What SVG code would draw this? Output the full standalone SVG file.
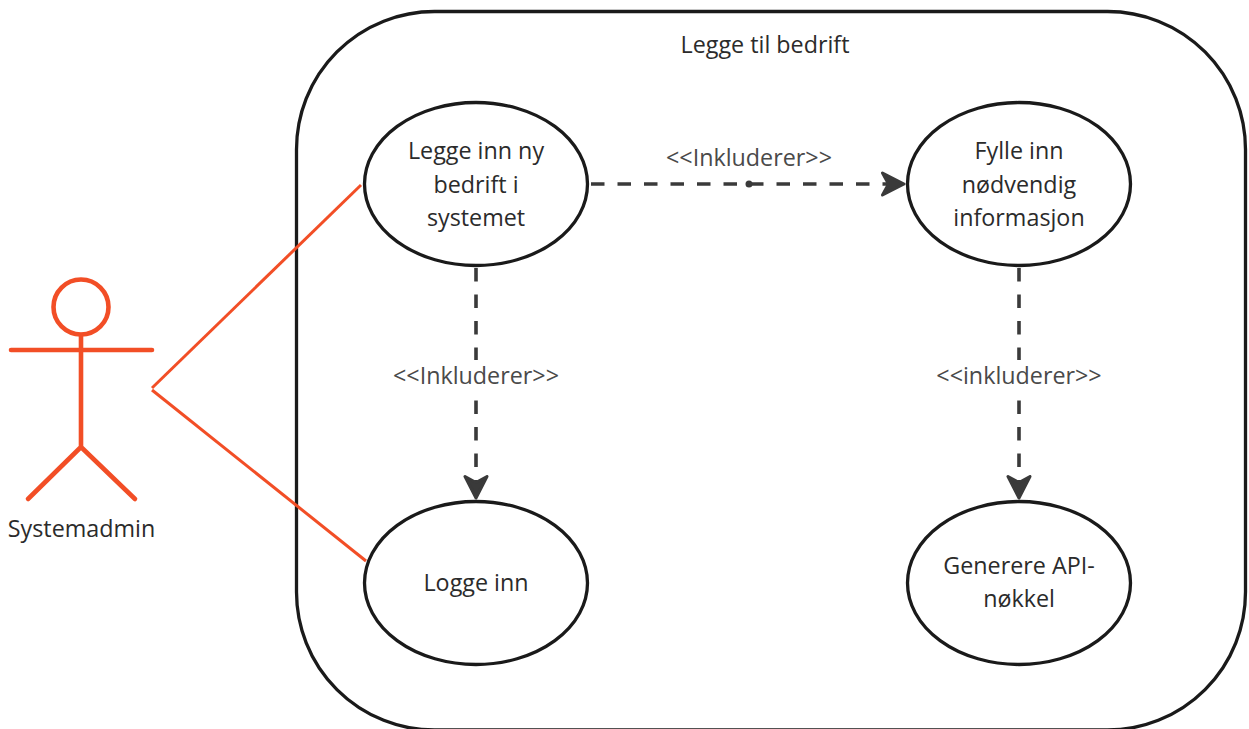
<svg xmlns="http://www.w3.org/2000/svg" width="1249" height="729" viewBox="0 0 1249 729">
<style>
text{font-family:"Open Sans","Noto Sans","DejaVu Sans",sans-serif;font-size:23.3px;fill:#2b2b2b;text-anchor:middle}
.lbl{fill:#4a4a4a}
.uc{fill:#fff;stroke:#1a1a1a;stroke-width:3.3}
.dash{fill:none;stroke:#3a3a3a;stroke-width:3.6;stroke-dasharray:13.5 13}
.act{fill:none;stroke:#f24e26;stroke-width:4.6;stroke-linecap:round}
.assoc{fill:none;stroke:#f24e26;stroke-width:3}
</style>
<defs>
<marker id="arrow" markerUnits="userSpaceOnUse" markerWidth="28" markerHeight="30" refX="24" refY="13" orient="auto">
<path d="M1.500 2 L23 13 L1.500 24 L7.500 13Z" fill="#3a3a3a" stroke="#3a3a3a" stroke-width="3" stroke-linejoin="round"/>
</marker>
</defs>
<g id="system">
<rect x="296.500" y="11.500" width="949" height="718.500" rx="138" ry="138" fill="#fff" stroke="#1a1a1a" stroke-width="3.300"/>
<text x="765" y="53">Legge til bedrift</text>
</g>
<g id="connectors">
<path class="assoc" d="M361 185 L152 388"/>
<path class="assoc" d="M152 390 L366 561"/>
<path class="dash" d="M591 184 H905" marker-end="url(#arrow)"/>
<circle cx="749" cy="184" r="3.500" fill="#3a3a3a"/>
<path class="dash" d="M476 268 V499" marker-end="url(#arrow)"/>
<path class="dash" d="M1019 268 V499" marker-end="url(#arrow)"/>
</g>
<g id="label-1"><rect x="392" y="360" width="168" height="32" fill="#fff"/><text class="lbl" x="476" y="384">&lt;&lt;Inkluderer&gt;&gt;</text></g>
<g id="label-2"><text class="lbl" x="749" y="166">&lt;&lt;Inkluderer&gt;&gt;</text></g>
<g id="label-3"><rect x="935" y="360" width="168" height="32" fill="#fff"/><text class="lbl" x="1019" y="384">&lt;&lt;inkluderer&gt;&gt;</text></g>
<g id="uc-legge-inn">
<ellipse class="uc" cx="476" cy="184" rx="111.500" ry="81.500"/>
<text x="476" y="159">Legge inn ny</text><text x="476" y="193">bedrift i</text><text x="476" y="226">systemet</text>
</g>
<g id="uc-fylle-inn">
<ellipse class="uc" cx="1019" cy="184" rx="111.500" ry="81.500"/>
<text x="1019" y="159">Fylle inn</text><text x="1019" y="193">nødvendig</text><text x="1019" y="226">informasjon</text>
</g>
<g id="uc-logge-inn">
<ellipse class="uc" cx="476" cy="583" rx="111.500" ry="81.500"/>
<text x="476" y="591">Logge inn</text>
</g>
<g id="uc-generere">
<ellipse class="uc" cx="1019" cy="583" rx="111.500" ry="81.500"/>
<text x="1019" y="574">Generere API-</text><text x="1019" y="607">nøkkel</text>
</g>
<g id="actor">
<circle class="act" cx="81" cy="307" r="27.500"/>
<path class="act" d="M81 335 V447 M11 350 H152 M81 447 L28 499 M81 447 L135 499"/>
<text x="81.500" y="537">Systemadmin</text>
</g>
</svg>
